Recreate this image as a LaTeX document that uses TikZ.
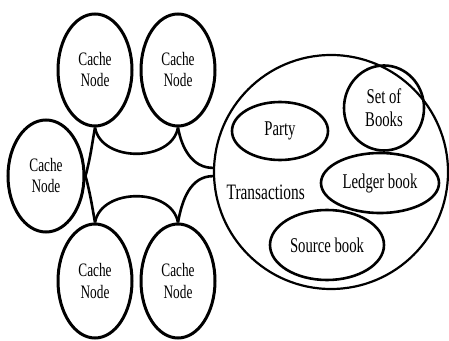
\documentclass[tikz,border=0pt]{standalone}
\usepackage{fontspec}
\setmainfont{Liberation Serif}[FakeStretch=0.7]
\usepackage{tikz}
\usetikzlibrary{positioning, shapes.geometric}

\begin{document}
\begin{tikzpicture}[
  x=1pt, y=1pt,
  style={line width=2.6pt},
  cache/.style={ellipse, draw, line width=3pt, inner sep=0pt, align=center,
    minimum width=74pt, minimum height=112pt, font=\fontsize{19}{21}\selectfont},
  item/.style={ellipse, draw, line width=2.6pt, inner sep=0pt, align=center,
    font=\fontsize{21}{21}\selectfont},
]
  \useasboundingbox (0,0) rectangle (449,340);

  % Cache nodes round the left
  \node[cache] (tl) at (95,270) {Cache\\Node};
  \node[cache] (tr) at (178,270) {Cache\\Node};
  \node[cache, minimum width=76pt] (ml) at (46,164) {Cache\\Node};
  \node[cache, minimum height=114pt] (bl) at (95,59) {Cache\\Node};
  \node[cache, minimum height=114pt] (br) at (178,59) {Cache\\Node};

  % Transactions and what it holds
  \node[circle, draw, line width=2.2pt, minimum size=234pt] (big) at (331,168) {};
  \node[font=\fontsize{22}{22}\selectfont, anchor=west] (trans) at (222,148) {Transactions};
  \node[item, minimum width=80pt, minimum height=85pt, font=\fontsize{21}{23}\selectfont]
    (books) at (384,232) {Set of\\Books};
  \node[item, minimum width=96pt, minimum height=58pt] (party) at (280,209) {Party};
  \node[item, minimum width=118pt, minimum height=60pt] (ledger) at (380,157) {Ledger book};
  \node[item, minimum width=114pt, minimum height=70pt] (source) at (327,95) {Source book};

  % links
  \draw (tl.south) to[out=-80, in=-100, looseness=1.1] (tr.south);
  \draw (bl.north) to[out=80, in=100, looseness=1.1] (br.north);
  \draw (tl.south) to[out=-100, in=75] (ml.east);
  \draw (ml.east) to[out=-75, in=100] (bl.north);
  \draw (tr.south) to[out=-80, in=180] (big.178);
  \draw (br.north) to[out=80, in=180] (big.182);
\end{tikzpicture}
\end{document}
